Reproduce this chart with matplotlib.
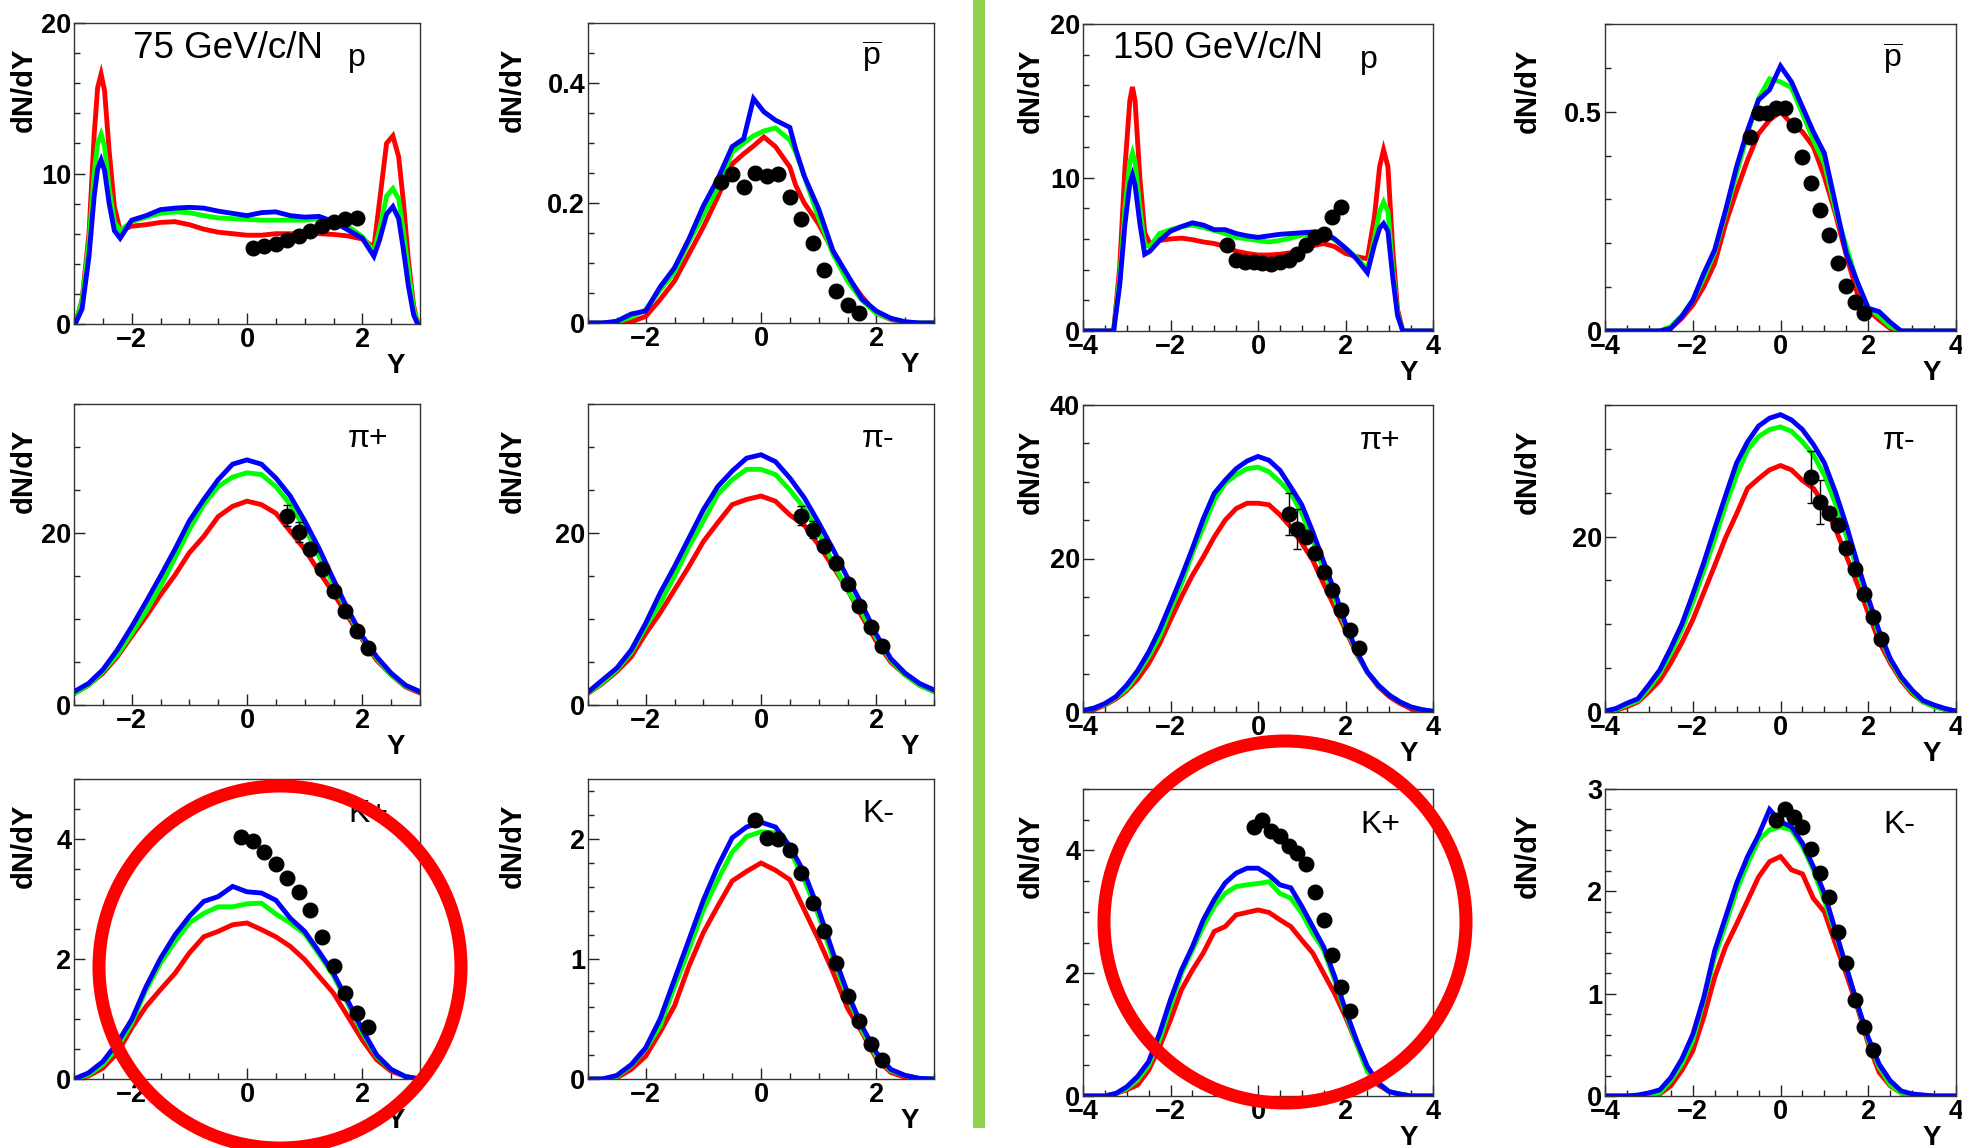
import matplotlib
matplotlib.use("Agg")
import matplotlib.pyplot as plt
from matplotlib.patches import Ellipse, Rectangle
from matplotlib.ticker import MultipleLocator, FuncFormatter

plt.rcParams["font.family"] = ["Liberation Sans", "DejaVu Sans"]
plt.rcParams["mathtext.fontset"] = "custom"
plt.rcParams["mathtext.rm"] = "Liberation Sans"

W, H = 1962, 1148

# ---------------- data ----------------
X75 = [-3.0, -2.75, -2.5, -2.25, -2.0, -1.75, -1.5, -1.25, -1.0, -0.75, -0.5, -0.25, 0.0,
       0.25, 0.5, 0.75, 1.0, 1.25, 1.5, 1.75, 2.0, 2.25, 2.5, 2.75, 3.0]
X150 = [-4.0, -3.75, -3.5, -3.25, -3.0, -2.75, -2.5, -2.25, -2.0, -1.75, -1.5, -1.25, -1.0,
        -0.75, -0.5, -0.25, 0.0, 0.25, 0.5, 0.75, 1.0, 1.25, 1.5, 1.75, 2.0, 2.25, 2.5,
        2.75, 3.0, 3.25, 3.5, 3.75, 4.0]

# 75 GeV/c/N, protons
X75_P = [-2.98, -2.86, -2.74, -2.65, -2.59, -2.53, -2.47, -2.39, -2.3, -2.2, -2.0, -1.75, -1.5,
         -1.25, -1.0, -0.75, -0.5, -0.25, 0.0, 0.25, 0.5, 0.75, 1.0, 1.25, 1.5, 1.75, 2.0,
         2.2, 2.3, 2.42, 2.53, 2.63, 2.71, 2.8, 2.89, 2.96]
P75_RED = [0, 1.6, 6.0, 12.6, 15.7, 16.6, 15.5, 11.5, 7.8, 6.2, 6.5, 6.6, 6.75, 6.8, 6.6, 6.3,
           6.1, 6.0, 5.9, 5.9, 6.0, 6.0, 6.0, 6.0, 5.95, 5.85, 5.65, 5.1, 8.2, 12.0, 12.5,
           11.1, 8.2, 4.2, 1.2, 0]
P75_GREEN = [0, 1.5, 5.5, 10.0, 12.0, 12.6, 11.8, 9.0, 6.8, 6.2, 6.8, 7.1, 7.35, 7.45, 7.4,
             7.2, 7.05, 7.0, 6.95, 6.9, 6.9, 6.9, 6.9, 7.0, 6.85, 6.5, 5.8, 4.8, 6.3, 8.5,
             9.0, 8.3, 6.2, 3.5, 1.0, 0]
P75_BLUE = [0, 1.0, 4.5, 8.5, 10.3, 10.9, 10.2, 8.0, 6.2, 5.7, 6.9, 7.2, 7.6, 7.7, 7.75, 7.7,
            7.5, 7.35, 7.2, 7.4, 7.45, 7.2, 7.1, 7.15, 6.8, 6.25, 5.7, 4.5, 5.6, 7.3, 7.8,
            7.0, 5.0, 2.5, 0.6, 0]
P75_PTS_X = [0.1, 0.3, 0.5, 0.7, 0.9, 1.1, 1.3, 1.5, 1.7, 1.9]
P75_PTS_Y = [5.05, 5.15, 5.3, 5.55, 5.85, 6.2, 6.5, 6.75, 7.0, 7.05]

# 75 GeV/c/N, antiprotons
X75_PBAR = [-3.0, -2.75, -2.5, -2.25, -2.0, -1.75, -1.5, -1.25, -1.0, -0.75, -0.5, -0.3, -0.13,
            0.05, 0.25, 0.5, 0.6, 0.75, 1.0, 1.25, 1.5, 1.75, 2.0, 2.25, 2.5, 2.75, 3.0]
PBAR75_RED = [0, 0, 0, 0.002, 0.011, 0.039, 0.07, 0.115, 0.16, 0.21, 0.265, 0.282, 0.295, 0.31,
              0.294, 0.26, 0.23, 0.2, 0.165, 0.12, 0.077, 0.044, 0.016, 0.006, 0.001, 0, 0]
PBAR75_GREEN = [0, 0, 0.001, 0.01, 0.022, 0.055, 0.085, 0.135, 0.18, 0.225, 0.285, 0.3, 0.312,
                0.32, 0.325, 0.305, 0.285, 0.245, 0.175, 0.115, 0.07, 0.038, 0.016, 0.007,
                0.002, 0, 0]
PBAR75_BLUE = [0, 0, 0.003, 0.015, 0.02, 0.06, 0.092, 0.14, 0.195, 0.24, 0.294, 0.307, 0.374,
               0.352, 0.338, 0.326, 0.29, 0.245, 0.19, 0.12, 0.08, 0.04, 0.02, 0.008, 0.002,
               0, 0]
PBAR75_PTS_X = [-0.7, -0.5, -0.3, -0.1, 0.1, 0.3, 0.5, 0.7, 0.9, 1.1, 1.3, 1.5, 1.7]
PBAR75_PTS_Y = [0.235, 0.248, 0.226, 0.25, 0.245, 0.248, 0.21, 0.173, 0.134, 0.088, 0.054,
                0.03, 0.017]

# 150 GeV/c/N, protons
X150_P = [-3.95, -3.5, -3.3, -3.16, -3.04, -2.93, -2.87, -2.81, -2.7, -2.59, -2.47, -2.25,
          -2.0, -1.75, -1.5, -1.25, -1.0, -0.75, -0.5, -0.25, 0.0, 0.25, 0.5, 0.75, 1.0, 1.25,
          1.5, 1.75, 2.0, 2.25, 2.5, 2.66, 2.78, 2.87, 2.97, 3.08, 3.19, 3.31, 3.95]
P150_RED = [0, 0, 0, 4.2, 10.7, 15.0, 15.9, 15.0, 10.0, 6.4, 5.7, 5.9, 6.0, 6.05, 5.95, 5.8,
            5.7, 5.5, 5.2, 5.05, 4.95, 4.95, 5.0, 5.1, 5.4, 5.55, 5.7, 5.5, 5.05, 4.85, 4.7,
            7.4, 10.7, 11.8, 10.7, 5.3, 1.4, 0, 0]
P150_GREEN = [0, 0, 0, 3.5, 8.0, 11.0, 11.6, 11.0, 8.0, 5.6, 5.5, 6.35, 6.6, 6.8, 6.9, 6.75,
              6.55, 6.35, 6.1, 6.0, 5.9, 5.8, 5.9, 6.05, 6.25, 6.3, 6.35, 5.95, 5.4, 4.8, 4.0,
              6.0, 7.8, 8.4, 7.8, 4.0, 1.1, 0, 0]
P150_BLUE = [0, 0, 0, 3.0, 7.0, 9.6, 10.15, 9.5, 7.0, 5.0, 5.2, 5.9, 6.5, 6.8, 7.05, 6.9, 6.6,
             6.6, 6.35, 6.2, 6.1, 6.2, 6.3, 6.35, 6.4, 6.45, 6.45, 6.0, 5.4, 4.7, 3.8, 5.6,
             6.7, 7.0, 6.5, 3.5, 1.0, 0, 0]
P150_PTS_X = [-0.7, -0.5, -0.3, -0.1, 0.1, 0.3, 0.5, 0.7, 0.9, 1.1, 1.3, 1.5, 1.7, 1.9]
P150_PTS_Y = [5.6, 4.6, 4.5, 4.5, 4.4, 4.35, 4.5, 4.6, 5.0, 5.6, 6.1, 6.35, 7.4, 8.1]

# 150 GeV/c/N, antiprotons
PBAR150_RED = [0, 0, 0, 0, 0, 0, 0.006, 0.029, 0.059, 0.101, 0.154, 0.245, 0.32, 0.39, 0.45,
               0.481, 0.5, 0.473, 0.454, 0.42, 0.352, 0.268, 0.173, 0.086, 0.048, 0.025,
               0.006, 0, 0, 0, 0, 0, 0]
PBAR150_GREEN = [0, 0, 0, 0, 0, 0, 0.01, 0.035, 0.07, 0.12, 0.18, 0.268, 0.36, 0.45, 0.53,
                 0.575, 0.568, 0.555, 0.496, 0.435, 0.382, 0.276, 0.192, 0.109, 0.052, 0.033,
                 0.01, 0, 0, 0, 0, 0, 0]
PBAR150_BLUE = [0, 0, 0, 0, 0, 0, 0.006, 0.033, 0.07, 0.131, 0.185, 0.276, 0.375, 0.458, 0.527,
                0.55, 0.604, 0.568, 0.511, 0.454, 0.405, 0.291, 0.177, 0.112, 0.052, 0.044,
                0.02, 0, 0, 0, 0, 0, 0]
PBAR150_PTS_X = [-0.7, -0.5, -0.3, -0.1, 0.1, 0.3, 0.5, 0.7, 0.9, 1.1, 1.3, 1.5, 1.7, 1.9]
PBAR150_PTS_Y = [0.443, 0.496, 0.496, 0.508, 0.508, 0.47, 0.397, 0.337, 0.276, 0.219, 0.154,
                 0.103, 0.067, 0.04]

# 75 GeV/c/N, pions
PIP75_RED = [1.3, 2.3, 3.7, 5.6, 8.0, 10.3, 12.8, 15.1, 17.7, 19.6, 21.9, 23.1, 23.7, 23.3,
             22.3, 20.2, 18.1, 15.5, 13.0, 10.3, 7.6, 5.2, 3.5, 2.1, 1.4]
PIP75_GREEN = [1.3, 2.3, 3.9, 5.8, 8.3, 10.9, 13.8, 17.1, 20.4, 23.3, 25.4, 26.5, 27.0, 26.8,
               25.4, 23.3, 20.6, 17.3, 14.0, 10.8, 7.8, 5.4, 3.5, 2.2, 1.55]
PIP75_BLUE = [1.55, 2.5, 4.1, 6.4, 9.1, 12.0, 15.0, 18.1, 21.4, 23.9, 26.2, 28.0, 28.5, 28.0,
              26.4, 24.3, 21.4, 18.2, 14.6, 11.1, 8.0, 5.6, 3.7, 2.3, 1.55]
PIP75_PTS_X = [0.7, 0.9, 1.1, 1.3, 1.5, 1.7, 1.9, 2.1]
PIP75_PTS_Y = [22.0, 20.1, 18.1, 15.8, 13.2, 10.9, 8.6, 6.6]
PIP75_PTS_E = [1.2, 1.2, 0.5, 0.4, 0.3, 0.3, 0.3, 0.3]

PIM75_RED = [1.35, 2.5, 3.9, 5.6, 8.3, 10.7, 13.4, 16.1, 19.0, 21.2, 23.3, 23.9, 24.3, 23.7,
             22.1, 20.9, 18.6, 16.1, 13.4, 10.3, 7.4, 5.0, 3.5, 2.3, 1.55]
PIM75_GREEN = [1.4, 2.6, 4.1, 6.1, 9.1, 11.8, 15.0, 18.4, 21.4, 24.5, 26.2, 27.4, 27.4, 26.8,
               25.0, 22.9, 20.0, 16.5, 13.4, 10.7, 7.8, 5.2, 3.5, 2.3, 1.55]
PIM75_BLUE = [1.5, 2.9, 4.3, 6.4, 9.5, 13.0, 16.1, 19.4, 22.7, 25.4, 27.2, 28.7, 29.1, 28.3,
              26.4, 24.1, 21.2, 18.1, 14.8, 11.7, 8.2, 5.4, 3.7, 2.5, 1.75]
PIM75_PTS_X = [0.7, 0.9, 1.1, 1.3, 1.5, 1.7, 1.9, 2.1]
PIM75_PTS_Y = [22.0, 20.4, 18.5, 16.5, 14.1, 11.5, 9.1, 6.9]
PIM75_PTS_E = [1.1, 1.0, 0.5, 0.4, 0.3, 0.3, 0.3, 0.3]

# 150 GeV/c/N, pions
PIP150_RED = [0, 0.3, 0.9, 1.7, 2.8, 4.3, 6.3, 8.9, 12.0, 15.0, 17.8, 20.2, 22.8, 25.0, 26.5,
              27.2, 27.2, 27.0, 25.7, 24.1, 22.0, 19.8, 16.7, 13.7, 10.7, 7.6, 5.2, 3.3, 2.0,
              1.1, 0.4, 0.1, 0]
PIP150_GREEN = [0.2, 0.5, 1.0, 1.9, 3.0, 5.0, 7.2, 9.8, 13.3, 16.7, 20.7, 24.1, 27.6, 29.8,
                30.9, 31.7, 31.9, 31.3, 30.0, 28.5, 25.9, 22.4, 18.5, 14.8, 11.1, 7.8, 5.2,
                3.5, 2.2, 1.3, 0.65, 0.3, 0.1]
PIP150_BLUE = [0.2, 0.5, 1.1, 2.0, 3.5, 5.4, 7.8, 10.7, 14.1, 17.6, 21.3, 25.2, 28.5, 30.2,
               31.7, 32.7, 33.3, 32.8, 31.5, 29.3, 27.0, 23.5, 19.6, 15.7, 11.5, 8.0, 5.2, 3.5,
               2.2, 1.3, 0.65, 0.3, 0.1]
PIP150_PTS_X = [0.7, 0.9, 1.1, 1.3, 1.5, 1.7, 1.9, 2.1, 2.3]
PIP150_PTS_Y = [25.8, 23.8, 22.8, 20.7, 18.3, 15.9, 13.3, 10.7, 8.3]
PIP150_PTS_E = [2.7, 2.6, 0.5, 0.4, 0.3, 0.3, 0.3, 0.3, 0.3]

PIM150_RED = [0, 0.2, 0.6, 1.15, 2.3, 3.6, 5.6, 7.9, 10.5, 13.6, 16.7, 19.9, 22.6, 25.5, 26.6,
              27.6, 28.1, 27.6, 26.4, 25.5, 23.6, 20.9, 17.8, 14.6, 11.3, 8.0, 5.6, 3.6, 2.1,
              1.15, 0.6, 0.3, 0.1]
PIM150_GREEN = [0.1, 0.3, 0.8, 1.3, 2.7, 4.4, 6.7, 9.4, 12.5, 16.1, 19.7, 23.6, 27.0, 29.9,
                31.4, 32.2, 32.5, 32.0, 30.8, 29.3, 27.0, 23.8, 20.1, 16.3, 12.5, 8.8, 5.9,
                3.8, 2.3, 1.15, 0.6, 0.3, 0.1]
PIM150_BLUE = [0.1, 0.4, 1.0, 1.5, 3.1, 4.8, 7.3, 10.0, 13.4, 17.0, 20.9, 24.7, 28.4, 30.8,
               32.6, 33.5, 33.9, 33.3, 32.2, 30.5, 28.4, 25.1, 21.3, 17.0, 13.0, 9.2, 6.1, 4.0,
               2.5, 1.3, 0.8, 0.4, 0.1]
PIM150_PTS_X = [0.7, 0.9, 1.1, 1.3, 1.5, 1.7, 1.9, 2.1, 2.3]
PIM150_PTS_Y = [26.8, 23.9, 22.7, 21.3, 18.7, 16.3, 13.4, 10.8, 8.3]
PIM150_PTS_E = [3.0, 2.5, 0.5, 0.4, 0.3, 0.3, 0.3, 0.3, 0.3]

# 75 GeV/c/N, kaons
KP75_RED = [0, 0.05, 0.18, 0.43, 0.85, 1.21, 1.49, 1.76, 2.1, 2.37, 2.46, 2.57, 2.6, 2.49,
            2.37, 2.21, 1.99, 1.71, 1.43, 1.04, 0.65, 0.32, 0.13, 0.04, 0]
KP75_GREEN = [0, 0.07, 0.24, 0.52, 0.93, 1.49, 1.93, 2.29, 2.6, 2.76, 2.87, 2.87, 2.92, 2.93,
              2.75, 2.6, 2.42, 2.08, 1.72, 1.25, 0.77, 0.38, 0.16, 0.04, 0]
KP75_BLUE = [0, 0.1, 0.29, 0.6, 0.99, 1.54, 2.01, 2.4, 2.71, 2.96, 3.04, 3.21, 3.12, 3.1, 2.98,
             2.68, 2.46, 2.12, 1.76, 1.3, 0.82, 0.4, 0.16, 0.04, 0]
KP75_PTS_X = [-0.1, 0.1, 0.3, 0.5, 0.7, 0.9, 1.1, 1.3, 1.5, 1.7, 1.9, 2.1]
KP75_PTS_Y = [4.04, 3.97, 3.79, 3.58, 3.35, 3.12, 2.82, 2.37, 1.89, 1.44, 1.1, 0.87]

KM75_RED = [0, 0, 0.01, 0.08, 0.19, 0.39, 0.61, 0.94, 1.22, 1.44, 1.65, 1.73, 1.8, 1.74, 1.66,
            1.41, 1.16, 0.89, 0.59, 0.39, 0.17, 0.055, 0.014, 0, 0]
KM75_GREEN = [0, 0, 0.02, 0.11, 0.25, 0.44, 0.77, 1.08, 1.41, 1.66, 1.89, 2.02, 2.06, 2.05,
              1.91, 1.66, 1.36, 1.0, 0.69, 0.41, 0.19, 0.07, 0.03, 0.005, 0]
KM75_BLUE = [0, 0, 0.03, 0.12, 0.26, 0.5, 0.83, 1.16, 1.49, 1.77, 2.01, 2.1, 2.14, 2.1, 1.94,
             1.72, 1.41, 1.05, 0.72, 0.44, 0.22, 0.08, 0.03, 0.005, 0]
KM75_PTS_X = [-0.1, 0.1, 0.3, 0.5, 0.7, 0.9, 1.1, 1.3, 1.5, 1.7, 1.9, 2.1]
KM75_PTS_Y = [2.16, 2.01, 2.0, 1.91, 1.72, 1.47, 1.23, 0.97, 0.69, 0.48, 0.29, 0.16]

# 150 GeV/c/N, kaons
KP150_RED = [0, 0, 0, 0.04, 0.1, 0.18, 0.42, 0.8, 1.24, 1.73, 2.05, 2.33, 2.68, 2.76, 2.95,
             2.99, 3.03, 2.99, 2.87, 2.76, 2.54, 2.33, 2.0, 1.67, 1.29, 0.86, 0.42, 0.18, 0.07,
             0.03, 0, 0, 0]
KP150_GREEN = [0, 0, 0, 0.04, 0.12, 0.26, 0.5, 0.91, 1.46, 2.0, 2.38, 2.76, 3.09, 3.3, 3.41,
               3.44, 3.46, 3.49, 3.3, 3.22, 2.98, 2.65, 2.38, 1.89, 1.35, 0.86, 0.4, 0.21, 0.07,
               0.03, 0, 0, 0]
KP150_BLUE = [0, 0, 0, 0.04, 0.15, 0.32, 0.56, 1.02, 1.57, 2.05, 2.43, 2.87, 3.2, 3.47, 3.63,
              3.71, 3.71, 3.6, 3.44, 3.39, 3.09, 2.76, 2.43, 1.95, 1.4, 0.91, 0.48, 0.21, 0.07,
              0.03, 0, 0, 0]
KP150_PTS_X = [-0.1, 0.1, 0.3, 0.5, 0.7, 0.9, 1.1, 1.3, 1.5, 1.7, 1.9, 2.1]
KP150_PTS_Y = [4.38, 4.5, 4.31, 4.23, 4.07, 3.96, 3.78, 3.32, 2.87, 2.3, 1.77, 1.39]

KM150_RED = [0, 0, 0, 0, 0.01, 0.02, 0.1, 0.25, 0.44, 0.77, 1.16, 1.46, 1.68, 1.91, 2.14, 2.29,
             2.34, 2.21, 2.17, 1.93, 1.8, 1.49, 1.19, 0.87, 0.51, 0.23, 0.1, 0.03, 0.01, 0, 0,
             0, 0]
KM150_GREEN = [0, 0, 0, 0, 0.01, 0.03, 0.15, 0.31, 0.54, 0.93, 1.36, 1.68, 2.01, 2.27, 2.5,
               2.6, 2.63, 2.6, 2.44, 2.21, 1.91, 1.59, 1.26, 0.9, 0.54, 0.28, 0.11, 0.03, 0.01,
               0, 0, 0, 0]
KM150_BLUE = [0, 0, 0, 0.01, 0.03, 0.06, 0.18, 0.36, 0.6, 0.96, 1.42, 1.75, 2.08, 2.34, 2.55,
              2.8, 2.68, 2.63, 2.47, 2.24, 1.98, 1.62, 1.26, 0.9, 0.57, 0.31, 0.15, 0.05, 0.02,
              0.01, 0, 0, 0]
KM150_PTS_X = [-0.1, 0.1, 0.3, 0.5, 0.7, 0.9, 1.1, 1.3, 1.5, 1.7, 1.9, 2.1]
KM150_PTS_Y = [2.7, 2.8, 2.73, 2.63, 2.41, 2.18, 1.94, 1.6, 1.3, 0.94, 0.67, 0.45]

LABELS = ["p", r"$\overline{\mathrm{p}}$", "p", r"$\overline{\mathrm{p}}$",
          "\u03c0+", "\u03c0-", "\u03c0+", "\u03c0-",
          "K+", "K-", "K+", "K-"]

# ---------------- layout ----------------
# axes frames in pixels: left, top, right, bottom
AX_PX = [(74, 23, 420, 324), (588, 23, 934, 323), (1083, 24, 1433, 331), (1605, 24, 1956, 331),
         (74, 404, 420, 705), (588, 404, 934, 705), (1083, 405, 1433, 712), (1605, 405, 1956, 712),
         (74, 779, 420, 1079), (588, 779, 934, 1079), (1083, 789, 1433, 1096), (1605, 789, 1956, 1096)]
YLAB_DX = [-50, -75, -52, -77]

panels = [
    (X75_P, P75_RED, P75_GREEN, P75_BLUE, P75_PTS_X, P75_PTS_Y, None, 20, 10, 2),
    (X75_PBAR, PBAR75_RED, PBAR75_GREEN, PBAR75_BLUE, PBAR75_PTS_X, PBAR75_PTS_Y, None, 0.5, 0.2, 0.05),
    (X150_P, P150_RED, P150_GREEN, P150_BLUE, P150_PTS_X, P150_PTS_Y, None, 20, 10, 2),
    (X150, PBAR150_RED, PBAR150_GREEN, PBAR150_BLUE, PBAR150_PTS_X, PBAR150_PTS_Y, None, 0.7, 0.5, 0.1),
    (X75, PIP75_RED, PIP75_GREEN, PIP75_BLUE, PIP75_PTS_X, PIP75_PTS_Y, PIP75_PTS_E, 35, 20, 5),
    (X75, PIM75_RED, PIM75_GREEN, PIM75_BLUE, PIM75_PTS_X, PIM75_PTS_Y, PIM75_PTS_E, 35, 20, 5),
    (X150, PIP150_RED, PIP150_GREEN, PIP150_BLUE, PIP150_PTS_X, PIP150_PTS_Y, PIP150_PTS_E, 40, 20, 5),
    (X150, PIM150_RED, PIM150_GREEN, PIM150_BLUE, PIM150_PTS_X, PIM150_PTS_Y, PIM150_PTS_E, 35, 20, 5),
    (X75, KP75_RED, KP75_GREEN, KP75_BLUE, KP75_PTS_X, KP75_PTS_Y, None, 5, 2, 0.5),
    (X75, KM75_RED, KM75_GREEN, KM75_BLUE, KM75_PTS_X, KM75_PTS_Y, None, 2.5, 1, 0.2),
    (X150, KP150_RED, KP150_GREEN, KP150_BLUE, KP150_PTS_X, KP150_PTS_Y, None, 5, 2, 0.5),
    (X150, KM150_RED, KM150_GREEN, KM150_BLUE, KM150_PTS_X, KM150_PTS_Y, None, 3, 1, 0.2),
]

fmt = FuncFormatter(lambda v, _: f"{v:g}".replace("-", "\u2212"))

fig = plt.figure(figsize=(W / 100, H / 100), dpi=100)

for i, (xg, red, green, blue, px, py, pe, ymax, ymaj, ymin) in enumerate(panels):
    l, t, r, b = AX_PX[i]
    col = i % 4
    ax = fig.add_axes([l / W, 1 - b / H, (r - l) / W, (b - t) / H])
    wide = col >= 2
    ax.set_xlim(-4, 4) if wide else ax.set_xlim(-3, 3)
    ax.set_ylim(0, ymax)
    for ys, c in ((red, "#ff0000"), (green, "#00ff00"), (blue, "#0000ff")):
        ax.plot(xg, ys, color=c, lw=3.5, solid_joinstyle="miter", zorder=2)
    if pe is None:
        ax.plot(px, py, "o", color="black", ms=10.5, zorder=3)
    else:
        ax.errorbar(px, py, yerr=pe, fmt="o", color="black", ms=10.5, elinewidth=1,
                    capsize=3, capthick=1, zorder=3)

    ax.xaxis.set_major_locator(MultipleLocator(2))
    ax.xaxis.set_minor_locator(MultipleLocator(0.5))
    ax.yaxis.set_major_locator(MultipleLocator(ymaj))
    ax.yaxis.set_minor_locator(MultipleLocator(ymin))
    ax.xaxis.set_major_formatter(fmt)
    ax.yaxis.set_major_formatter(fmt)
    ax.tick_params(which="both", direction="in", top=False, right=False, width=1, color="#222222")
    ax.tick_params(which="major", length=8)
    ax.tick_params(which="minor", length=4.5)
    ax.tick_params(axis="x", labelsize=19.5, pad=2.5)
    ax.tick_params(axis="y", labelsize=19.5, pad=2)
    for lab in ax.get_xticklabels() + ax.get_yticklabels():
        lab.set_fontweight("bold")
    for s in ax.spines.values():
        s.set_linewidth(1)
        s.set_color("#333333")

    ax.annotate("dN/dY", xy=(0, 1), xycoords="axes fraction",
                xytext=(YLAB_DX[col] * 0.72, -25 * 0.72), textcoords="offset points",
                rotation=90, ha="center", va="top", fontsize=21, fontweight="bold")
    ax.annotate("Y", xy=(1, 0), xycoords="axes fraction",
                xytext=(-24 * 0.72, -29 * 0.72), textcoords="offset points",
                ha="center", va="top", fontsize=20, fontweight="bold")
    ax.text(0.792, 0.856, LABELS[i], transform=ax.transAxes, ha="left", va="baseline",
            fontsize=23)

fig.axes[0].text(0.17, 0.884, "75 GeV/c/N", transform=fig.axes[0].transAxes,
                 ha="left", va="baseline", fontsize=26.5)
fig.axes[2].text(0.086, 0.889, "150 GeV/c/N", transform=fig.axes[2].transAxes,
                 ha="left", va="baseline", fontsize=26.5)

# green separator bar between the two energies
fig.add_artist(Rectangle((973 / W, 1 - 1128 / H), 12 / W, 1128 / H,
                         transform=fig.transFigure, color="#92d050", lw=0))

# red highlight circles around the K+ panels
for cx, cy in ((280, 967), (1285, 922)):
    fig.add_artist(Ellipse((cx / W, 1 - cy / H), 2 * 181 / W, 2 * 181 / H,
                           transform=fig.transFigure, fill=False, ec="#ff0000",
                           lw=13 * 0.72, zorder=10))

fig.savefig("out.png", dpi=100)
